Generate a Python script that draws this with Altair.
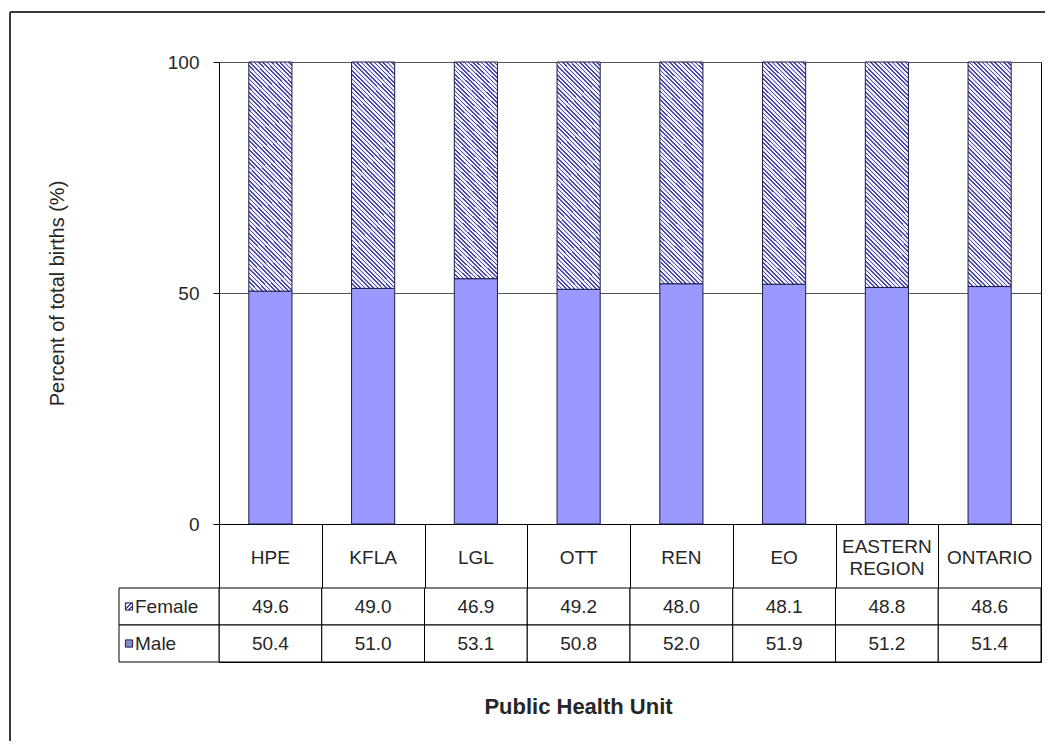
import altair as alt
import pandas as pd

# ---------------- data ----------------
categories = ["HPE", "KFLA", "LGL", "OTT", "REN", "EO", "EASTERN REGION", "ONTARIO"]
female = [49.6, 49.0, 46.9, 49.2, 48.0, 48.1, 48.8, 48.6]
male = [50.4, 51.0, 53.1, 50.8, 52.0, 51.9, 51.2, 51.4]
stack_order = ["Male", "Female"]      # bottom -> top
table_rows = ["Female", "Male"]
y_ticks = [0, 50, 100]

rows = []
for i, c in enumerate(categories):
    rows.append({"cat": c, "sex": "Male", "pct": male[i], "order": 0})
    rows.append({"cat": c, "sex": "Female", "pct": female[i], "order": 1})
df = pd.DataFrame(rows)

trows = []
for i, c in enumerate(categories):
    trows.append({"cat": c, "row": "Female", "val": female[i]})
    trows.append({"cat": c, "row": "Male", "val": male[i]})
tdf = pd.DataFrame(trows)
ldf = pd.DataFrame({"row": table_rows})
hdf = pd.DataFrame({"cat": categories})

# ---------------- styles ----------------
W, H = 822, 462
FONT = "Liberation Sans"
TEXT = "#262626"
BAR_COLOR = "#9999ff"
EDGE = "#1c1c4a"
DARK = "#4a4aa6"
LIGHT = "#eeeefc"
BAND = 0.42
LINE_H = 22

# diagonal hatch built as a striped linear gradient (\\\ direction)
bw = W / len(categories) * BAND
bh = H * 0.485
lam = (bw + bh) / (bw ** 2 + bh ** 2)
n = round((bw + bh) / 4.3)
stops = []
for k in range(n):
    a, b, c = k / n, (k + 0.38) / n, (k + 1) / n
    stops += [
        {"offset": round(a, 5), "color": DARK},
        {"offset": round(b, 5), "color": DARK},
        {"offset": round(b, 5), "color": LIGHT},
        {"offset": round(c, 5), "color": LIGHT},
    ]
hatch = {"gradient": "linear", "x1": 0, "y1": 1,
         "x2": round(lam * bw, 5), "y2": round(1 - lam * bh, 5), "stops": stops}

sw_stops = []
m = 3
for k in range(m):
    a, b, c = k / m, (k + 0.4) / m, (k + 1) / m
    sw_stops += [
        {"offset": round(a, 5), "color": DARK},
        {"offset": round(b, 5), "color": DARK},
        {"offset": round(b, 5), "color": LIGHT},
        {"offset": round(c, 5), "color": LIGHT},
    ]
swatch_hatch = {"gradient": "linear", "x1": 0, "y1": 0, "x2": 1, "y2": 1, "stops": sw_stops}

# ---------------- bar chart ----------------
x_bar = alt.X(
    "cat:N", sort=categories,
    scale=alt.Scale(paddingInner=0, paddingOuter=0),
    axis=alt.Axis(
        title=None, labels=False,
        tickBand="extent", tickSize=64, tickColor="black", tickWidth=1,
        domainColor="black", domainWidth=1, grid=False,
    ),
)
y_bar = alt.Y(
    "y0:Q", scale=alt.Scale(domain=[0, 100], nice=False),
    axis=alt.Axis(
        values=y_ticks, title="Percent of total births (%)",
        titleFontSize=20, titleFontWeight="normal", titleColor=TEXT, titlePadding=100,
        labelFontSize=19, labelColor=TEXT, labelPadding=14,
        tickSize=6, tickColor="black", domainColor="black",
        grid=True, gridColor="#555555", gridWidth=1,
    ),
)

base = alt.Chart(df).transform_stack(
    stack="pct", groupby=["cat"], as_=["y0", "y1"],
    sort=[alt.SortField("order", order="ascending")],
).encode(x=x_bar, y=y_bar, y2="y1:Q")

male_bars = base.transform_filter(alt.datum.sex == "Male").mark_bar(
    width=alt.RelativeBandSize(band=BAND), fill=BAR_COLOR, stroke=EDGE, strokeWidth=1)
female_bars = base.transform_filter(alt.datum.sex == "Female").mark_bar(
    width=alt.RelativeBandSize(band=BAND), fill=hatch, stroke=EDGE, strokeWidth=1)

# header row of the data table (category names)
header_one = alt.Chart(hdf).transform_filter(
    "indexof(datum.cat, ' ') < 0"
).mark_text(fontSize=19, color=TEXT, baseline="middle").encode(
    x=x_bar, y=alt.value(H + 34), text="cat:N")
header_two = alt.Chart(hdf).transform_filter(
    "indexof(datum.cat, ' ') >= 0"
).mark_text(fontSize=19, color=TEXT, baseline="middle", lineBreak=" ",
            lineHeight=LINE_H, dy=-LINE_H / 2).encode(
    x=x_bar, y=alt.value(H + 34), text="cat:N")

frame = alt.Data(values=[{"k": 1}])
border_left = alt.Chart(frame).mark_rule(color="#3a3a3a", strokeWidth=2).encode(
    x=alt.value(-209), y=alt.value(-50), y2=alt.value(679))
border_top = alt.Chart(frame).mark_rule(color="#3a3a3a", strokeWidth=2).encode(
    x=alt.value(-209), x2=alt.value(826), y=alt.value(-50))

bar_chart = alt.layer(male_bars, female_bars, header_one, header_two,
                      border_left, border_top).properties(width=W, height=H)

# ---------------- data table ----------------
x_tab = alt.X(
    "cat:N", sort=categories,
    scale=alt.Scale(paddingInner=0, paddingOuter=0),
    axis=alt.Axis(
        labels=False, ticks=False, domain=False, grid=False,
        title="Public Health Unit", titleFontSize=22, titleFontWeight="bold",
        titleColor=TEXT, titleX=359, titleY=44, titleBaseline="middle", titleAlign="center",
    ),
)
y_tab = alt.Y("row:N", sort=table_rows, axis=None,
              scale=alt.Scale(paddingInner=0, paddingOuter=0))

cells = alt.Chart(tdf).mark_rect(fill="white", stroke="black", strokeWidth=1).encode(
    x=x_tab, y=y_tab)
values = alt.Chart(tdf).mark_text(fontSize=19, color=TEXT, baseline="middle").encode(
    x=x_tab, y=y_tab, text=alt.Text("val:Q", format=".1f"))

label_cells = alt.Chart(ldf).mark_rect(fill="white", stroke="black", strokeWidth=1).encode(
    x=alt.value(-100), x2=alt.value(0), y=y_tab)
label_text = alt.Chart(ldf).mark_text(fontSize=19, color=TEXT, align="left",
                                      baseline="middle").encode(
    x=alt.value(-84), y=y_tab, text="row:N")
sw_f = alt.Chart(ldf).transform_filter(alt.datum.row == "Female").mark_square(
    size=52, fill=swatch_hatch, stroke=EDGE, strokeWidth=1, opacity=1).encode(
    x=alt.value(-90), y=y_tab)
sw_m = alt.Chart(ldf).transform_filter(alt.datum.row == "Male").mark_square(
    size=52, fill="#8a8acc", stroke=EDGE, strokeWidth=1, opacity=1).encode(
    x=alt.value(-90), y=y_tab)

table = alt.layer(cells, values, label_cells, label_text, sw_f, sw_m).properties(
    width=W, height=74)

chart = alt.vconcat(bar_chart, table, spacing=64, bounds="flush").properties(
    padding={"left": 0, "top": 2, "right": 0, "bottom": 0},
).configure(font=FONT).configure_view(stroke="black", strokeWidth=1)

chart.save("out.html", embed_options={"renderer": "svg", "actions": False})
